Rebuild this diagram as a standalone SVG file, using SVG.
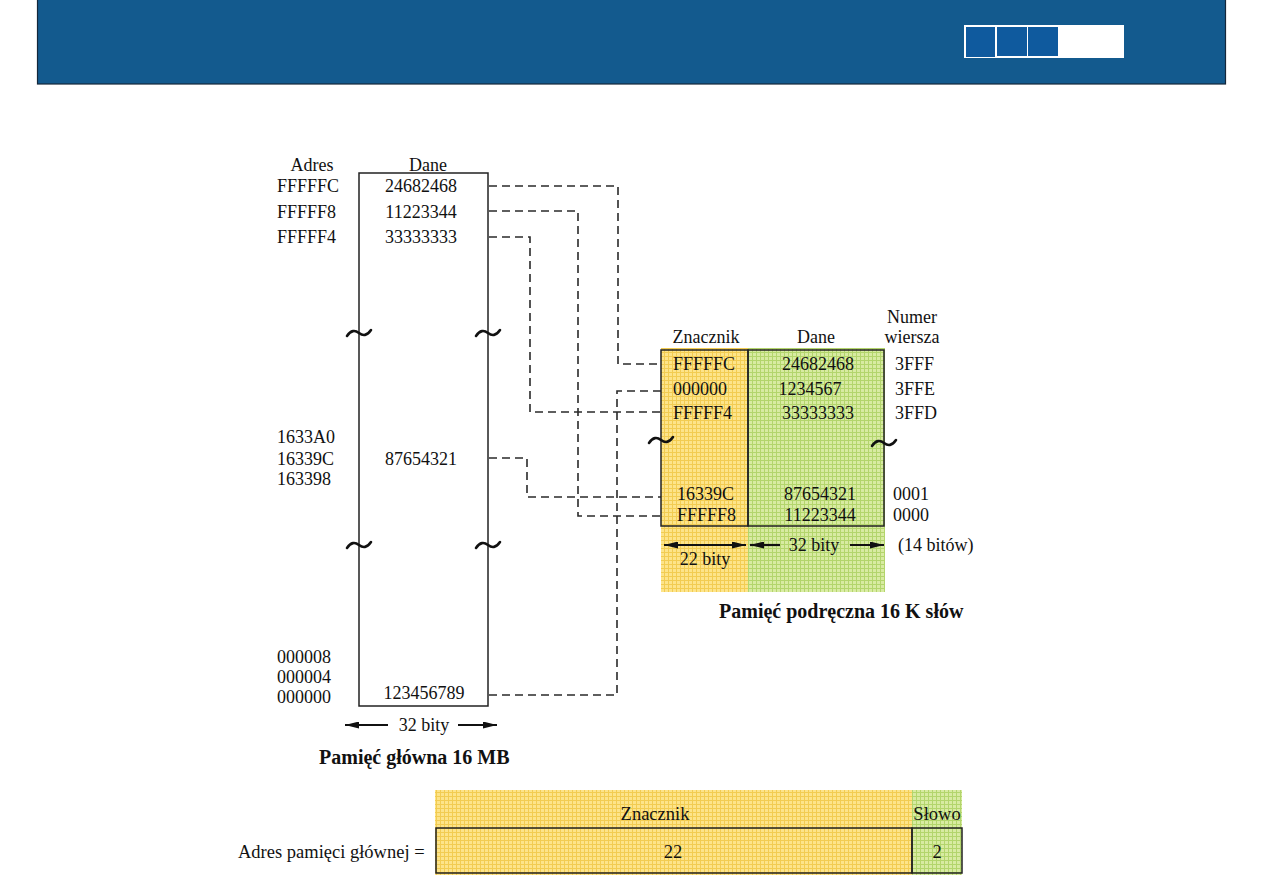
<svg xmlns="http://www.w3.org/2000/svg" width="1263" height="893" viewBox="0 0 1263 893">
<style>
text{font-family:"Liberation Serif","Times New Roman",serif;font-size:18px;fill:#111}
.c{text-anchor:middle}
.b{font-weight:bold;font-size:20px}
.s{font-size:18.5px}
.dash{fill:none;stroke:#2a2a2a;stroke-width:1.6;stroke-dasharray:8 5}
.box{fill:none;stroke:#222;stroke-width:1.5}
.tl{fill:none;stroke:#111;stroke-width:2.6;stroke-linecap:round}
.ar{stroke:#111;stroke-width:2.2}
</style>
<defs>
<pattern id="py" width="4" height="4" patternUnits="userSpaceOnUse">
<rect width="4" height="4" fill="#fde48a"/>
<path d="M0 0.5H4M0.5 0V4" stroke="#f2cc52" stroke-width="1"/>
</pattern>
<pattern id="pg" width="4" height="4" patternUnits="userSpaceOnUse">
<rect width="4" height="4" fill="#d8eba2"/>
<path d="M0 0.5H4M0.5 0V4" stroke="#b3d56c" stroke-width="1"/>
</pattern>
<marker id="ah" viewBox="0 0 14 7" refX="14" refY="3.5" markerWidth="14" markerHeight="7" markerUnits="userSpaceOnUse" orient="auto-start-reverse">
<path d="M0 0L14 3.5L0 7Z" fill="#111"/>
</marker>
</defs>

<g id="header">
<rect x="37.5" y="-1" width="1188" height="85" fill="#135a8e" stroke="#14273a" stroke-width="1.2"/>
<rect x="964" y="25" width="160" height="33" fill="#fff"/>
<rect x="966" y="27" width="29" height="30" fill="#0f5a9e"/>
<rect x="997" y="27" width="30" height="29" fill="#0f5a9e"/>
<rect x="1028" y="27" width="30" height="29" fill="#0f5a9e"/>
</g>

<g id="main-memory">
<text class="c" x="312" y="171">Adres</text>
<text class="c" x="428" y="171">Dane</text>
<rect class="box" x="359" y="173" width="129" height="533" fill="#fff"/>
<text x="277" y="192">FFFFFC</text>
<text x="277" y="218">FFFFF8</text>
<text x="277" y="243">FFFFF4</text>
<text class="c" x="421" y="192">24682468</text>
<text class="c" x="421" y="218">11223344</text>
<text class="c" x="421" y="243">33333333</text>
<text x="277" y="443">1633A0</text>
<text x="277" y="465">16339C</text>
<text x="277" y="485">163398</text>
<text class="c" x="421" y="465">87654321</text>
<text x="277" y="663">000008</text>
<text x="277" y="683">000004</text>
<text x="277" y="703">000000</text>
<text class="c" x="424" y="699">123456789</text>
<path class="tl" d="M347 336C351 330 355 330 359 333S367 336 371 330"/>
<path class="tl" d="M476 336C480 330 484 330 488 333S496 336 500 330"/>
<path class="tl" d="M347 548C351 542 355 542 359 545S367 548 371 542"/>
<path class="tl" d="M476 548C480 542 484 542 488 545S496 548 500 542"/>
<line class="ar" x1="388" y1="725" x2="345" y2="725" marker-end="url(#ah)"/>
<line class="ar" x1="458" y1="725" x2="497" y2="725" marker-end="url(#ah)"/>
<text class="c" x="424" y="731">32 bity</text>
<text class="b" x="319" y="764">Pamięć główna 16 MB</text>
</g>

<g id="cache">
<rect x="661" y="348" width="87" height="244" fill="url(#py)"/>
<rect x="748" y="348" width="137" height="244" fill="url(#pg)"/>
<rect class="box" x="661" y="350" width="87" height="176"/>
<rect class="box" x="748" y="350" width="136" height="176"/>
<text class="c" x="706" y="343">Znacznik</text>
<text class="c" x="816" y="343">Dane</text>
<text class="c" x="912" y="323">Numer</text>
<text class="c" x="912" y="343">wiersza</text>
<text x="673" y="370" fill="#3a3000">FFFFFC</text>
<text x="673" y="395" fill="#3a3000">000000</text>
<text x="673" y="419" fill="#3a3000">FFFFF4</text>
<text class="c" x="818" y="370" fill="#223000">24682468</text>
<text class="c" x="810" y="395" fill="#223000">1234567</text>
<text class="c" x="818" y="419" fill="#223000">33333333</text>
<text x="895" y="370">3FFF</text>
<text x="895" y="395">3FFE</text>
<text x="895" y="419">3FFD</text>
<text x="677" y="500" fill="#3a3000">16339C</text>
<text x="677" y="521" fill="#3a3000">FFFFF8</text>
<text class="c" x="820" y="500" fill="#223000">87654321</text>
<text class="c" x="820" y="521" fill="#223000">11223344</text>
<text x="893" y="500">0001</text>
<text x="893" y="521">0000</text>
<path class="tl" d="M649 443C653 437 657 437 661 440S669 443 673 437"/>
<path class="tl" d="M872 446C876 440 880 440 884 443S892 446 896 440"/>
<line class="ar" x1="664" y1="545" x2="746" y2="545" marker-start="url(#ah)" marker-end="url(#ah)"/>
<line class="ar" x1="780" y1="545" x2="750" y2="545" marker-end="url(#ah)"/>
<line class="ar" x1="850" y1="545" x2="884" y2="545" marker-end="url(#ah)"/>
<text class="c" x="814" y="551" fill="#223000">32 bity</text>
<text class="c" x="705" y="565" fill="#3a3000">22 bity</text>
<text x="898" y="551">(14 bitów)</text>
<text class="b" x="719" y="618">Pamięć podręczna 16 K słów</text>
</g>

<g id="connectors">
<path class="dash" d="M489 186H618V364H661"/>
<path class="dash" d="M489 211H578V516H661"/>
<path class="dash" d="M489 237H530V412H661"/>
<path class="dash" d="M489 458H527V497H661"/>
<path class="dash" d="M489 695H617V391H661"/>
</g>

<g id="address-format">
<rect x="435" y="790" width="477" height="85" fill="url(#py)"/>
<rect x="912" y="790" width="50" height="85" fill="url(#pg)"/>
<rect class="box" x="436" y="828" width="476" height="45"/>
<rect class="box" x="912" y="828" width="50" height="45"/>
<text class="c s" x="655" y="820" fill="#3a3000">Znacznik</text>
<text class="c s" x="937" y="820" fill="#223000">Słowo</text>
<text class="c s" x="673" y="858" fill="#3a3000">22</text>
<text class="c s" x="937" y="858" fill="#223000">2</text>
<text class="s" x="238" y="858">Adres pamięci głównej =</text>
</g>
</svg>
